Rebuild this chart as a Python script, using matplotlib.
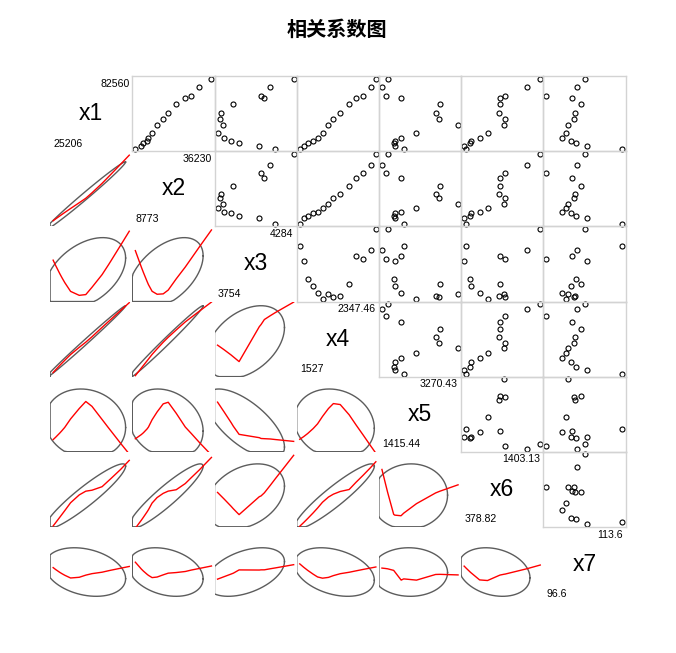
import numpy as np
import matplotlib
matplotlib.use("Agg")
import matplotlib.pyplot as plt

# ---- data (14 observations) ----
names = ["x1", "x2", "x3", "x4", "x5", "x6", "x7"]
x1 = [25206, 27099, 30138, 31744, 33924, 38340, 44878, 49811, 54457, 62085, 67017, 68623, 76022, 82560]
x2 = [8773, 10942, 11683, 13001, 13496, 14814, 16626, 18822, 20634, 23517, 26785, 28981, 31864, 36230]
x3 = [4157, 4045, 3904, 3848, 3799, 3754, 3789, 3768, 3777, 3864, 4080, 4057, 4122, 4284]
x4 = [1527, 1569.7, 1612.3, 1672.2, 1719.0, 1772.3, 1836.3, 1889.6, 1963.5, 2059.5, 2134.1, 2208.8, 2290.8, 2347.46]
x5 = [1945.9, 1722.0, 1701.1, 1728.0, 1878.0, 2257.6, 3270.43, 2804.8, 2723.2, 2828.9, 1884.0, 1504.5, 1415.44, 1554.6]
x6 = [409.5, 378.82, 454.6, 467.9, 586.7, 693.3, 919.6, 928.9, 850.0, 856.0, 862.3, 922.0, 1225.9, 1403.13]
x7 = [113.6, 105.7, 103.2, 102.1, 100.0, 101.0, 101.5, 102.8, 102.9, 104.4, 102.4, 96.6, 103.5, 105.3]
title = "相关系数图"

data = [np.array(v, dtype=float) for v in (x1, x2, x3, x4, x5, x6, x7)]
nv = len(data)


def lowess(x, y, f=2/3, it=3):
    order = np.argsort(x, kind="stable")
    x = x[order]; y = y[order]
    n = len(x)
    ns = max(min(int(f * n + 1e-7), n), 2)
    rw = np.ones(n)
    ys = np.zeros(n)
    for iteration in range(it + 1):
        nleft, nright = 0, ns - 1
        for i in range(n):
            while nright < n - 1 and x[i] - x[nleft] > x[nright + 1] - x[i]:
                nleft += 1; nright += 1
            h = max(x[i] - x[nleft], x[nright] - x[i])
            h9, h1 = 0.999 * h, 0.001 * h
            w = np.zeros(n)
            for j in range(nleft, n):
                r = abs(x[j] - x[i])
                if r <= h9:
                    w[j] = 1.0 if r <= h1 else (1 - (r / h) ** 3) ** 3
                    if iteration > 0:
                        w[j] *= rw[j]
                elif x[j] > x[i]:
                    break
            a = w.sum()
            if a <= 0:
                ys[i] = y[i]
                continue
            w = w / a
            if h > 0:
                c = np.sum(w * x)
                b = np.sum(w * (x - c) ** 2)
                rng = x[-1] - x[0]
                if np.sqrt(b) > 0.001 * rng:
                    w = w * ((x[i] - c) * (x - c) / b + 1)
            ys[i] = np.sum(w * y)
        if iteration >= it:
            break
        res = y - ys
        cmad = 6 * np.median(np.abs(res))
        if cmad < 1e-7 * np.mean(np.abs(y)):
            break
        r = np.abs(res)
        rw = np.where(r <= 0.001 * cmad, 1.0,
                      np.where(r <= 0.999 * cmad, (1 - (r / cmad) ** 2) ** 2, 0.0))
    return x, ys


def usr(v):
    lo, hi = v.min(), v.max()
    d = 0.04 * (hi - lo)
    return lo - d, hi + d


n = len(x1)
dfd = n - 1
p = 0.68
fq = (dfd / 2.0) * ((1 - p) ** (-2.0 / dfd) - 1)
radius = np.sqrt(2 * fq)

W, H = 676, 653
fig = plt.figure(figsize=(W / 100, H / 100), dpi=100)
fig.patch.set_facecolor("white")

left0, top0 = 50.1, 76.3
pw, ph = 82.2, 75.08

fig.text(336.5 / W, 1 - 29.5 / H, title, ha="center", va="center",
         fontsize=14.5, fontweight="bold",
         family=["Noto Sans CJK SC", "DejaVu Sans"])

for i in range(nv):
    for j in range(nv):
        l = left0 + j * pw
        t = top0 + i * ph
        ax = fig.add_axes([l / W, 1 - (t + ph) / H, pw / W, ph / H])
        xv, yv = data[j], data[i]
        ux, uy = usr(xv), usr(yv)
        ax.set_xlim(*ux); ax.set_ylim(*uy)
        ax.set_xticks([]); ax.set_yticks([])
        for s in ax.spines.values():
            s.set_visible(False)
        ax.patch.set_alpha(0)
        if i == j:
            v = data[i]
            mn, mx = round(v.min(), 2), round(v.max(), 2)
            fmt = lambda z: ("%g" % z)
            ax.text(0.5, 0.5, names[i], transform=ax.transAxes, ha="center", va="center",
                    fontsize=16.5, family="Liberation Sans")
            ax.text(mn, mn, fmt(mn), ha="left", va="bottom", fontsize=7.6,
                    family="Liberation Sans")
            ax.text(mx, mx, fmt(mx), ha="right", va="top", fontsize=7.6,
                    family="Liberation Sans")
        elif i < j:
            for s in ax.spines.values():
                s.set_visible(True)
                s.set_color("#d3d3d3")
                s.set_linewidth(1.0)
            ax.plot(xv, yv, "o", mfc="none", mec="black", ms=3.6, mew=0.8, clip_on=False)
        else:
            S = np.cov(np.vstack([xv, yv]))
            R = np.linalg.cholesky(S).T
            ang = np.linspace(0, 2 * np.pi, 75)
            uc = np.column_stack([np.cos(ang), np.sin(ang)])
            pts = np.array([xv.mean(), yv.mean()]) + radius * (uc @ R)
            ex = np.clip(pts[:, 0], ux[0], ux[1])
            ey = np.clip(pts[:, 1], uy[0], uy[1])
            ax.plot(ex, ey, color="#5c5c5c", lw=1.0)
            lx, ly = lowess(xv, yv)
            ax.plot(lx, ly, color="red", lw=1.0)

fig.savefig("out.png", dpi=100, facecolor="white")
